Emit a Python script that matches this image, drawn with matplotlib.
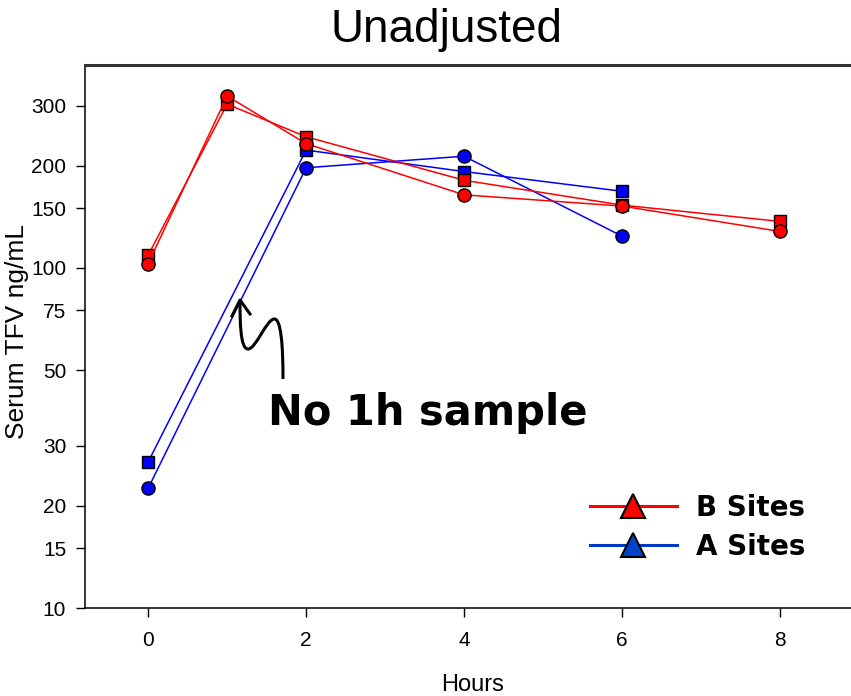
import matplotlib
matplotlib.use("Agg")
import matplotlib.pyplot as plt
from matplotlib.lines import Line2D
from matplotlib.path import Path
from matplotlib.patches import PathPatch
from matplotlib.ticker import FixedLocator, NullLocator

# data
hours_b = [0, 1, 2, 4, 6, 8]
b_square = [109, 303, 243, 181, 153, 137]
b_circle = [103, 320, 232, 164, 152, 128]

hours_a = [0, 2, 4, 6]
a_square = [26.9, 222, 192, 168]
a_circle = [22.5, 197, 213, 124]

x_ticks = [0, 2, 4, 6, 8]
y_ticks = [10, 15, 20, 30, 50, 75, 100, 150, 200, 300]
legend_labels = ["B Sites", "A Sites"]

plt.rcParams['font.family'] = ['Liberation Sans', 'DejaVu Sans']

W, H = 851, 696
fig = plt.figure(figsize=(W / 100, H / 100), dpi=100)
ax = fig.add_axes([85 / W, 1 - 608 / H, 1 - 85 / W, (608 - 65) / H])

red = '#ff0000'
blue = '#0000ff'
common = dict(lw=1.1, mec='black', mew=1.0)

ax.plot(hours_a, a_square, color=blue, marker='s', ms=8.5, mfc=blue, **common)
ax.plot(hours_a, a_circle, color=blue, marker='o', ms=9.5, mfc=blue, **common)
ax.plot(hours_b, b_square, color=red, marker='s', ms=8.5, mfc=red, **common)
ax.plot(hours_b, b_circle, color=red, marker='o', ms=9.5, mfc=red, **common)

ax.set_yscale('log')
ax.set_ylim(10, 395)
ax.set_xlim(-0.8, 8.9)
ax.yaxis.set_major_locator(FixedLocator(y_ticks))
ax.yaxis.set_minor_locator(NullLocator())
ax.set_yticklabels([str(v) for v in y_ticks])
ax.set_xticks(x_ticks)
ax.tick_params(axis='y', direction='out', length=6.5, width=1, labelsize=15, pad=7)
ax.tick_params(axis='x', direction='out', length=6.5, width=1, labelsize=15, pad=10)

ax.spines['right'].set_visible(False)
ax.spines['top'].set_color('#333333')
ax.spines['top'].set_linewidth(2.2)
ax.spines['left'].set_linewidth(1.1)
ax.spines['bottom'].set_linewidth(1.1)

fig.text(447 / W, 1 - 30 / H, 'Unadjusted', fontsize=33, ha='center', va='center')
fig.text(473 / W, 1 - 685 / H, 'Hours', fontsize=17, ha='center', va='center')
fig.text(17 / W, 1 - 331 / H, 'Serum TFV ng/mL', fontsize=19, rotation=90,
         ha='center', va='center')

# annotation
ax.text(0.4478, 0.359, 'No 1h sample', transform=ax.transAxes, fontsize=30,
        fontweight='bold', family='DejaVu Sans', ha='center', va='center')


def fp(px, py):
    return (px / W, 1 - py / H)


verts = [fp(283, 379), fp(283, 345), fp(281, 318), fp(274, 319),
         fp(266, 320), fp(256, 349), fp(248, 349),
         fp(240, 349), fp(240, 320), fp(240, 300)]
codes = [Path.MOVETO] + [Path.CURVE4] * 9
fig.patches.append(PathPatch(Path(verts, codes), fill=False, lw=2.2,
                             edgecolor='black', transform=fig.transFigure))
head = [fp(232, 316), fp(240, 300), fp(250, 314)]
fig.lines.append(Line2D([p[0] for p in head], [p[1] for p in head], lw=2.2,
                        color='black', transform=fig.transFigure))

# legend
handles = [
    Line2D([], [], color=red, lw=2.2, marker='^', ms=17, mfc=red, mec='black', mew=1.5),
    Line2D([], [], color='#0038c8', lw=2.2, marker='^', ms=17, mfc='#0044cc',
           mec='black', mew=1.5),
]
ax.legend(handles, legend_labels, loc='upper left', bbox_to_anchor=(0.659, 0.21),
          frameon=False, borderpad=0, borderaxespad=0, handlelength=3.14,
          handletextpad=0.7, labelspacing=0.38,
          prop=dict(family='DejaVu Sans', weight='bold', size=20))

fig.savefig('out.png', dpi=100)
